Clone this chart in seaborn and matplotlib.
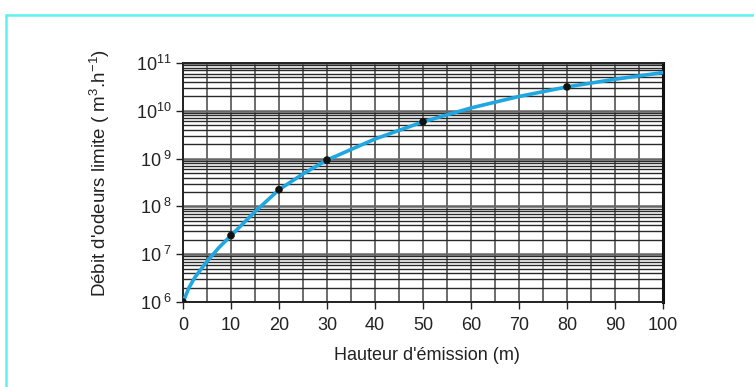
import matplotlib
matplotlib.use("Agg")
import matplotlib.pyplot as plt
from matplotlib.lines import Line2D
from matplotlib.ticker import LogLocator, MultipleLocator, FixedLocator, NullFormatter
import seaborn as sns
import pandas as pd

# Odour flow limit versus emission height (read on a log scale)
heights = [0, 1.25, 2.5, 5, 7.5, 10, 15, 20, 25, 30, 40, 50, 60, 70, 80, 90, 100]
log_flow = [6.0, 6.3, 6.52, 6.85, 7.14, 7.39, 7.89, 8.35, 8.68, 8.97, 9.41, 9.77,
            10.06, 10.30, 10.50, 10.66, 10.80]
point_heights = [0, 10, 20, 30, 50, 80]
point_log_flow = [6.0, 7.39, 8.35, 8.97, 9.77, 10.50]

x_ticks = [0, 10, 20, 30, 40, 50, 60, 70, 80, 90, 100]
y_exponents = [6, 7, 8, 9, 10, 11]
y_tick_labels = [r"$\mathregular{10^{\ 6}}$", r"$\mathregular{10^{\ 7}}$",
                 r"$\mathregular{10^{\ 8}}$", r"$\mathregular{10^{\ 9}}$",
                 r"$\mathregular{10^{10}}$", r"$\mathregular{10^{11}}$"]

curve = pd.DataFrame({"h": heights, "q": [10 ** v for v in log_flow]})
points = pd.DataFrame({"h": point_heights, "q": [10 ** v for v in point_log_flow]})

sns.set_theme(style="white")
plt.rcParams["font.family"] = ["Liberation Sans", "DejaVu Sans"]
plt.rcParams["mathtext.fontset"] = "custom"
plt.rcParams["mathtext.rm"] = "Liberation Sans"
plt.rcParams["mathtext.it"] = "Liberation Sans"

fig = plt.figure(figsize=(7.54, 3.87), dpi=100)
fig.patch.set_facecolor("white")
ax = fig.add_axes([183 / 754, 85 / 387, 480 / 754, 239 / 387])

ax.set_yscale("log")
ax.set_xlim(0, 100)
ax.set_ylim(1e6, 1e11)

# Graph-paper style grid
ax.xaxis.set_major_locator(FixedLocator(x_ticks))
ax.xaxis.set_minor_locator(MultipleLocator(5))
ax.yaxis.set_major_locator(FixedLocator([10 ** e for e in y_exponents]))
ax.yaxis.set_minor_locator(LogLocator(base=10, subs=range(2, 10)))
ax.yaxis.set_minor_formatter(NullFormatter())
ax.grid(which="major", axis="y", color="#666666", linewidth=1.8)
ax.grid(which="minor", axis="y", color="#2a2a2a", linewidth=1.0)
ax.grid(which="both", axis="x", color="#444444", linewidth=1.1)
ax.set_axisbelow(True)

sns.lineplot(data=curve, x="h", y="q", ax=ax, color="#1ea7e1", linewidth=2.6,
             zorder=3)
sns.scatterplot(data=points, x="h", y="q", ax=ax, color="#111111", s=30,
                edgecolor="none", zorder=4)

ax.set_xticklabels([str(t) for t in x_ticks])
ax.set_yticklabels(y_tick_labels)
ax.tick_params(axis="both", which="major", labelsize=13, colors="#222222",
               direction="out", length=5, width=1.0, left=True, bottom=True)
ax.tick_params(axis="both", which="minor", length=0)
ax.tick_params(axis="x", pad=6)
ax.tick_params(axis="y", pad=3)

for side in ["left", "bottom", "top"]:
    ax.spines[side].set_color("#222222")
    ax.spines[side].set_linewidth(1.4)
ax.spines["right"].set_color("#111111")
ax.spines["right"].set_linewidth(2.2)

ax.set_xlabel("")
ax.set_ylabel("")
fig.text(427 / 754, 1 - 356 / 387, "Hauteur d'émission (m)", ha="center",
         va="center", fontsize=13, color="#222222")
fig.text(100 / 754, 1 - 173 / 387, r"Débit d'odeurs limite ( m$^{3}$.h$^{-1}$)",
         ha="center", va="center", rotation=90, fontsize=13.5, color="#222222")

# Cyan frame along the top and left edges
fig.add_artist(Line2D([6 / 754, 1.0], [1 - 15 / 387, 1 - 15 / 387],
                      transform=fig.transFigure, color="#5cf2f2", linewidth=1.8))
fig.add_artist(Line2D([6 / 754, 6 / 754], [0.0, 1 - 15 / 387],
                      transform=fig.transFigure, color="#5cf2f2", linewidth=1.8))

fig.savefig("out.png", dpi=100)
